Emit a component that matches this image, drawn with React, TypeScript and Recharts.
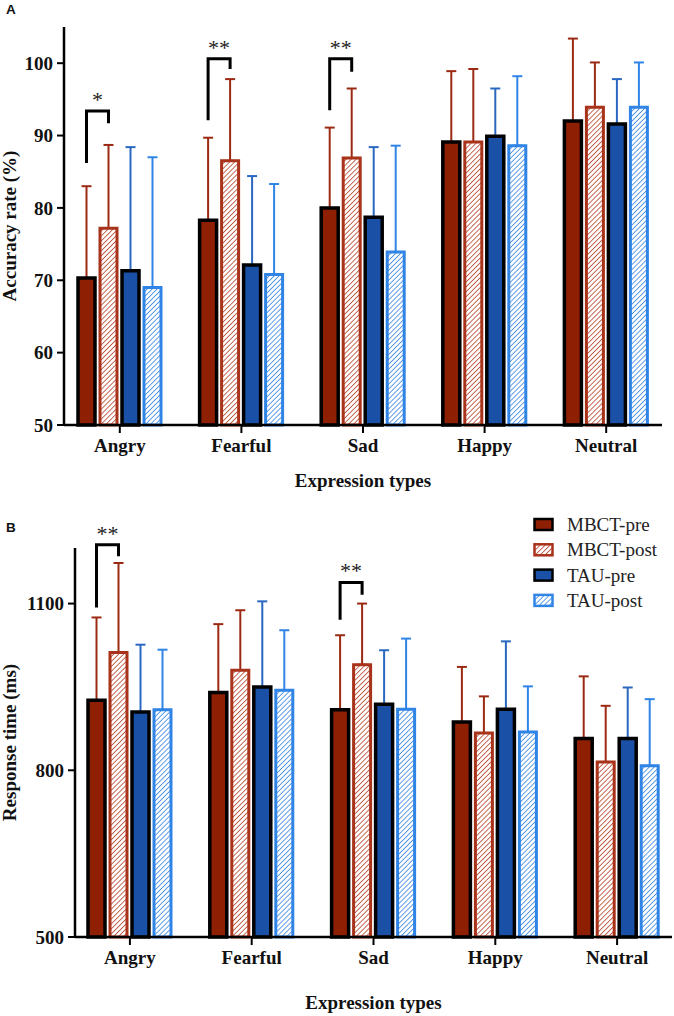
import React from 'react';
import { BarChart, Bar, XAxis, YAxis, ErrorBar, LabelList, Legend } from 'recharts';

const categories = ['Angry', 'Fearful', 'Sad', 'Happy', 'Neutral'];

// Panel A: accuracy rate (%)
const accMbctPre = [70.3, 78.3, 80.0, 89.1, 92.0];
const accMbctPost = [77.2, 86.5, 86.9, 89.1, 93.9];
const accTauPre = [71.3, 72.1, 78.7, 89.9, 91.6];
const accTauPost = [69.0, 70.8, 73.9, 88.6, 93.9];
const accMbctPreSD = [12.7, 11.4, 11.1, 9.8, 11.4];
const accMbctPostSD = [11.5, 11.3, 9.6, 10.1, 6.2];
const accTauPreSD = [17.1, 12.3, 9.7, 6.6, 6.2];
const accTauPostSD = [18.0, 12.5, 14.7, 9.6, 6.2];
const accTicks = [50, 60, 70, 80, 90, 100];
const accDomain = [50, 105];
const accSig = ['*', '**', '**', '', ''];
const accBracketTop = [93.4, 100.6, 100.6, 0, 0];
const accBracketLeft = [86.2, 92.1, 93.5, 0, 0];
const accBracketRight = [91.7, 99.2, 98.8, 0, 0];

// Panel B: response time (ms)
const rtMbctPre = [926, 940, 909, 887, 857];
const rtMbctPost = [1012, 980, 990, 867, 815];
const rtTauPre = [905, 950, 919, 910, 857];
const rtTauPost = [909, 944, 910, 869, 808];
const rtMbctPreSD = [149, 123, 134, 99, 112];
const rtMbctPostSD = [161, 108, 110, 66, 101];
const rtTauPreSD = [121, 154, 97, 122, 92];
const rtTauPostSD = [108, 108, 127, 82, 120];
const rtTicks = [500, 800, 1100];
const rtDomain = [500, 1200];
const rtSig = ['**', '', '**', '', ''];
const rtBracketTop = [1206, 0, 1138, 0, 0];
const rtBracketLeft = [1093, 0, 1071, 0, 0];
const rtBracketRight = [1185, 0, 1116, 0, 0];

const seriesKeys = ['mbctPre', 'mbctPost', 'tauPre', 'tauPost'];
const seriesNames = ['MBCT-pre', 'MBCT-post', 'TAU-pre', 'TAU-post'];

const S: Record<string, { fill: string; stroke: string; err: string; sw: number }> = {
  mbctPre: { fill: '#8f1f02', stroke: '#000', err: '#9b2a12', sw: 3.5 },
  mbctPost: { fill: 'url(#hatchRed)', stroke: '#a8321a', err: '#9b2a12', sw: 3 },
  tauPre: { fill: '#1a51a6', stroke: '#000', err: '#2a68c0', sw: 3.5 },
  tauPost: { fill: 'url(#hatchBlue)', stroke: '#2f84e6', err: '#2f84e6', sw: 3 },
};

const BAR_SIZE = 17;
const BAR_GAP = 5;
const SERIF = '"Liberation Serif", "Times New Roman", serif';

function buildData(means: number[][], sds: number[][]) {
  return categories.map((name, i) => {
    const row: any = { name };
    seriesKeys.forEach((k, s) => {
      row[k] = means[s][i];
      row[k + 'Err'] = [0, sds[s][i]];
    });
    return row;
  });
}

const accData = buildData(
  [accMbctPre, accMbctPost, accTauPre, accTauPost],
  [accMbctPreSD, accMbctPostSD, accTauPreSD, accTauPostSD]
);
const rtData = buildData(
  [rtMbctPre, rtMbctPost, rtTauPre, rtTauPost],
  [rtMbctPreSD, rtMbctPostSD, rtTauPreSD, rtTauPostSD]
);

function makeBracket(sig: string[], top: number[], left: number[], right: number[], yMin: number) {
  return (props: any) => {
    const { index, value } = props;
    const s = sig[index];
    if (!s) return null;
    const vb = props.viewBox && props.viewBox.height != null ? props.viewBox : props;
    const x = Number(vb.x), y = Number(vb.y), w = Number(vb.width), h = Number(vb.height);
    const base = y + h;
    const k = h / (Number(value) - yMin);
    const py = (v: number) => base - (v - yMin) * k;
    const xL = x + w / 2;
    const xR = x + w * 1.5 + BAR_GAP;
    const yT = py(top[index]);
    return (
      <g>
        <path
          d={`M${xL},${py(left[index])} V${yT} H${xR} V${py(right[index])}`}
          fill="none"
          stroke="#000"
          strokeWidth={3}
        />
        <text x={(xL + xR) / 2} y={yT - 4} textAnchor="middle" fontFamily={SERIF} fontSize={22} fill="#222">
          {s}
        </text>
      </g>
    );
  };
}

function LegendBox() {
  return (
    <svg width={140} height={104}>
      {seriesKeys.map((k, i) => {
        const cy = 12.5 + i * 25.3;
        return (
          <g key={k}>
            <rect x={1.5} y={cy - 5.5} width={18} height={11} fill={S[k].fill} stroke={S[k].stroke} strokeWidth={2.5} />
            <text x={34} y={cy + 6.5} fontFamily={SERIF} fontSize={19} fill="#222">
              {seriesNames[i]}
            </text>
          </g>
        );
      })}
    </svg>
  );
}

type PanelProps = {
  top: number;
  height: number;
  data: any[];
  margin: { top: number; right: number; bottom: number; left: number };
  xPad: number;
  yDomain: number[];
  yTicks: number[];
  yLabel: string;
  yLabelX: number;
  xTitleDy: number;
  letter: string;
  letterY: number;
  bracket: (p: any) => any;
  legend: boolean;
};

function Panel(p: PanelProps) {
  const tickStyle = { fontFamily: SERIF, fontWeight: 700, fontSize: 19, fill: '#111' };
  const common = {
    width: 674,
    height: p.height,
    data: p.data,
    margin: p.margin,
    barGap: BAR_GAP,
    barSize: BAR_SIZE,
  };
  return (
    <div style={{ position: 'absolute', left: 0, top: p.top, width: 674, height: p.height }}>
      {/* error bar layer (drawn beneath the bars) */}
      <div style={{ position: 'absolute', left: 0, top: 0 }}>
        <BarChart {...common}>
          <XAxis dataKey="name" height={30} padding={{ left: p.xPad, right: p.xPad }} axisLine={false} tickLine={false} tick={false} />
          <YAxis domain={p.yDomain} ticks={p.yTicks} width={60} axisLine={false} tickLine={false} tick={false} />
          {seriesKeys.map((k) => (
            <Bar key={k} dataKey={k} fill="transparent" stroke="none" isAnimationActive={false}>
              <ErrorBar dataKey={k + 'Err'} width={5} strokeWidth={2} stroke={S[k].err} direction="y" isAnimationActive={false} />
            </Bar>
          ))}
        </BarChart>
      </div>
      {/* main layer */}
      <div style={{ position: 'absolute', left: 0, top: 0 }}>
        <BarChart {...common}>
          <XAxis
            dataKey="name"
            height={30}
            padding={{ left: p.xPad, right: p.xPad }}
            axisLine={{ stroke: '#000', strokeWidth: 2.5 }}
            tickLine={{ stroke: '#000', strokeWidth: 2 }}
            tickSize={8}
            tickMargin={6}
            tick={tickStyle}
            label={(lp: any) => {
              const vb = lp.viewBox;
              return (
                <text x={vb.x + vb.width / 2} y={vb.y + p.xTitleDy} textAnchor="middle" fontFamily={SERIF} fontWeight={700} fontSize={19} fill="#111">
                  Expression types
                </text>
              );
            }}
          />
          <YAxis
            domain={p.yDomain}
            ticks={p.yTicks}
            width={60}
            axisLine={{ stroke: '#000', strokeWidth: 2.5 }}
            tickLine={{ stroke: '#000', strokeWidth: 2 }}
            tickSize={7}
            tickMargin={4}
            tick={tickStyle}
            label={(lp: any) => {
              const vb = lp.viewBox;
              const cy = vb.y + vb.height / 2;
              return (
                <text x={p.yLabelX} y={cy} transform={`rotate(-90, ${p.yLabelX}, ${cy})`} textAnchor="middle" fontFamily={SERIF} fontWeight={700} fontSize={19} fill="#111">
                  {p.yLabel}
                </text>
              );
            }}
          />
          {seriesKeys.map((k) => (
            <Bar key={k} dataKey={k} name={k} fill={S[k].fill} stroke={S[k].stroke} strokeWidth={S[k].sw} isAnimationActive={false}>
              {k === 'mbctPre' ? <LabelList dataKey="mbctPre" content={p.bracket} /> : null}
            </Bar>
          ))}
          {p.legend ? (
            <Legend
              layout="vertical"
              align="center"
              verticalAlign="middle"
              wrapperStyle={{ left: 533, top: 11.5, width: 140, height: 104 }}
              content={() => <LegendBox />}
            />
          ) : null}
        </BarChart>
      </div>
      <svg width={30} height={40} style={{ position: 'absolute', left: 0, top: 0 }}>
        <text x={6} y={p.letterY} fontFamily='"Liberation Sans", Arial, sans-serif' fontWeight={700} fontSize={13.5} fill="#111">
          {p.letter}
        </text>
      </svg>
    </div>
  );
}

export default function App() {
  return (
    <div style={{ position: 'absolute', left: 0, top: 0, width: 674, height: 1016, background: '#fff' }}>
      <svg width={0} height={0} style={{ position: 'absolute' }}>
        <defs>
          <pattern id="hatchRed" width={3.5} height={3.5} patternUnits="userSpaceOnUse" patternTransform="rotate(45)">
            <rect width={3.5} height={3.5} fill="#fff" />
            <line x1={0} y1={0} x2={0} y2={3.5} stroke="#b8452c" strokeWidth={1.6} />
          </pattern>
          <pattern id="hatchBlue" width={3.5} height={3.5} patternUnits="userSpaceOnUse" patternTransform="rotate(45)">
            <rect width={3.5} height={3.5} fill="#fff" />
            <line x1={0} y1={0} x2={0} y2={3.5} stroke="#3a86e2" strokeWidth={1.6} />
          </pattern>
        </defs>
      </svg>
      <Panel
        top={0}
        height={500}
        data={accData}
        margin={{ top: 27, right: 12, bottom: 45, left: 4 }}
        xPad={-5}
        yDomain={accDomain}
        yTicks={accTicks}
        yLabel="Accuracy rate (%)"
        yLabelX={16}
        xTitleDy={62}
        letter="A"
        letterY={14}
        bracket={makeBracket(accSig, accBracketTop, accBracketLeft, accBracketRight, accDomain[0])}
        legend={false}
      />
      <Panel
        top={500}
        height={516}
        data={rtData}
        margin={{ top: 48, right: 2, bottom: 49, left: 15 }}
        xPad={-6}
        yDomain={rtDomain}
        yTicks={rtTicks}
        yLabel="Response time (ms)"
        yLabelX={16}
        xTitleDy={72}
        letter="B"
        letterY={32}
        bracket={makeBracket(rtSig, rtBracketTop, rtBracketLeft, rtBracketRight, rtDomain[0])}
        legend={true}
      />
    </div>
  );
}
